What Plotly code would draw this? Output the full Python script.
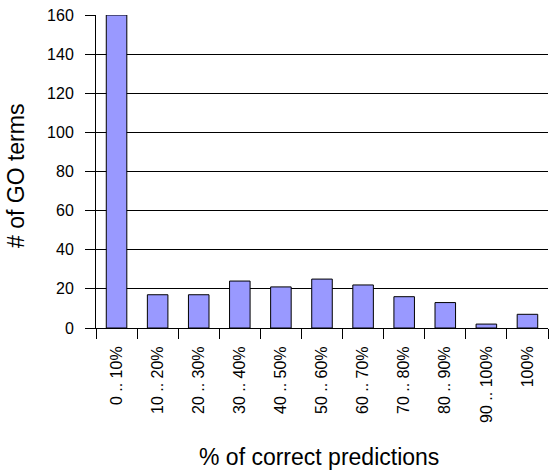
import plotly.graph_objects as go

categories = ["0 .. 10%", "10 .. 20%", "20 .. 30%", "30 .. 40%", "40 .. 50%",
              "50 .. 60%", "60 .. 70%", "70 .. 80%", "80 .. 90%", "90 .. 100%", "100%"]
counts = [160, 17, 17, 24, 21, 25, 22, 16, 13, 2, 7]
y_ticks = [0, 20, 40, 60, 80, 100, 120, 140, 160]

FONT = "Liberation Sans, Arial, Helvetica, sans-serif"
W, H = 549, 473
L, R, T, B = 96, 1, 15, 145
pw = W - L - R
ph = H - T - B

fig = go.Figure(go.Bar(
    x=categories, y=counts, width=0.5,
    marker=dict(color="#9999FF", line=dict(color="black", width=1)),
))

fig.update_layout(
    width=W, height=H,
    margin=dict(l=L, r=R, t=T, b=B),
    paper_bgcolor="white", plot_bgcolor="white",
    showlegend=False,
    font=dict(family=FONT, size=16, color="black"),
    xaxis=dict(
        type="category", tickson="boundaries", ticks="outside", ticklen=10,
        tickcolor="black", tickwidth=1, tickangle=-90,
        showline=True, linecolor="black", linewidth=1, showgrid=False,
        tickfont=dict(family=FONT, size=16, color="black"),
        ticklabelstandoff=11,
    ),
    yaxis=dict(
        range=[0, 160], tickvals=y_ticks, ticks="outside", ticklen=10,
        tickcolor="black", tickwidth=1,
        showline=True, linecolor="black", linewidth=1,
        showgrid=True, gridcolor="black", gridwidth=1,
        zeroline=False,
        tickfont=dict(family=FONT, size=16, color="black"),
        ticklabelstandoff=8,
    ),
    annotations=[
        dict(text="# of GO terms", xref="paper", yref="paper",
             x=(16 - L) / pw, y=(H - B - 176) / ph,
             xanchor="center", yanchor="middle", textangle=-90, showarrow=False,
             font=dict(family=FONT, size=23, color="black")),
        dict(text="% of correct predictions", xref="paper", yref="paper",
             x=(319 - L) / pw, y=(H - B - 457) / ph,
             xanchor="center", yanchor="middle", showarrow=False,
             font=dict(family=FONT, size=23, color="black")),
    ],
)

fig.write_html("out.html", config={"displayModeBar": False},
               post_script="document.body.style.margin='0';document.body.style.overflow='hidden';")
